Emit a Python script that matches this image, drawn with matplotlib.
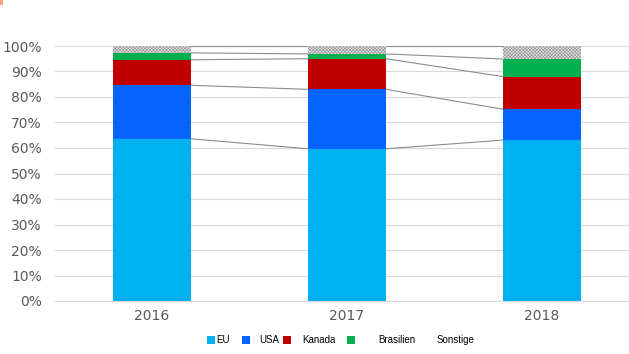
import matplotlib
matplotlib.use("Agg")
import matplotlib.pyplot as plt
from matplotlib.patches import Rectangle
import numpy as np

years = ["2016", "2017", "2018"]
series = ["EU", "USA", "Kanada", "Brasilien", "Sonstige"]
eu = [63.6, 59.7, 63.1]
usa = [21.0, 23.3, 12.1]
kanada = [10.0, 12.0, 12.8]
brasilien = [2.7, 1.9, 6.9]
sonstige = [2.7, 3.1, 5.1]
yticks = [0, 10, 20, 30, 40, 50, 60, 70, 80, 90, 100]

colors = ["#00B0F0", "#0563FF", "#C00000", "#00B050", "#FFFFFF"]
values = [eu, usa, kanada, brasilien, sonstige]

W, H = 629, 354
fig = plt.figure(figsize=(W / 100, H / 100), dpi=100)
ax = fig.add_axes([54.5 / W, (H - 301) / H, 585 / W, 255 / H])

x = np.arange(len(years))
bw = 0.4
bottom = np.zeros(len(years))
plt.rcParams['hatch.linewidth'] = 0.5
for name, vals, c in zip(series, values, colors):
    v = np.array(vals, dtype=float)
    if name == "Sonstige":
        ax.bar(x, v, bw, bottom=bottom, color="#E6E6E6", edgecolor="#9A9A9A",
               hatch="xxxxxxxxxx", linewidth=0, zorder=3)
    else:
        ax.bar(x, v, bw, bottom=bottom, color=c, linewidth=0, zorder=3)
    bottom = bottom + v
    # series lines between bars
    for i in range(len(years) - 1):
        ax.plot([x[i] + bw / 2, x[i + 1] - bw / 2], [bottom[i], bottom[i + 1]],
                color="#8C8C8C", lw=0.8, zorder=2)

ax.set_xlim(-0.5, 2.5)
ax.set_ylim(0, 100)
ax.set_yticks(yticks)
ax.set_yticklabels([f"{t}%" for t in yticks], fontsize=10, color="#595959")
ax.set_xticks(x)
ax.set_xticklabels(years, fontsize=10, color="#595959")
ax.tick_params(axis="both", length=0)
ax.tick_params(axis="y", pad=9)
ax.tick_params(axis="x", pad=6)
ax.grid(axis="y", color="#D9D9D9", lw=0.8, zorder=0)
for s in ["top", "right", "left"]:
    ax.spines[s].set_visible(False)
ax.spines["bottom"].set_color("#D9D9D9")
ax.spines["bottom"].set_linewidth(0.8)

# legend (manual)
marker_x = [207, 242, 283, 347, 410]
text_x = [216, 259, 302, 378, 437]
ly = 340
for name, c, mx, tx in zip(series, colors, marker_x, text_x):
    if name == "Sonstige":
        r = Rectangle((mx / W, (H - ly - 4) / H), 8 / W, 8 / H, transform=fig.transFigure,
                      facecolor="white", edgecolor="white", lw=0)
    else:
        r = Rectangle((mx / W, (H - ly - 4) / H), 8 / W, 8 / H, transform=fig.transFigure,
                      facecolor=c, edgecolor="none", lw=0)
    fig.patches.append(r)
    fig.text(tx / W, (H - ly) / H, name, fontsize=7, color="#000000",
             va="center", ha="left", family="Liberation Sans")

fig.patches.append(Rectangle((0, (H - 5) / H), 3 / W, 5 / H, transform=fig.transFigure,
                             facecolor="#ED7D31", edgecolor="none", alpha=0.7))

fig.savefig("out.png", dpi=100)
